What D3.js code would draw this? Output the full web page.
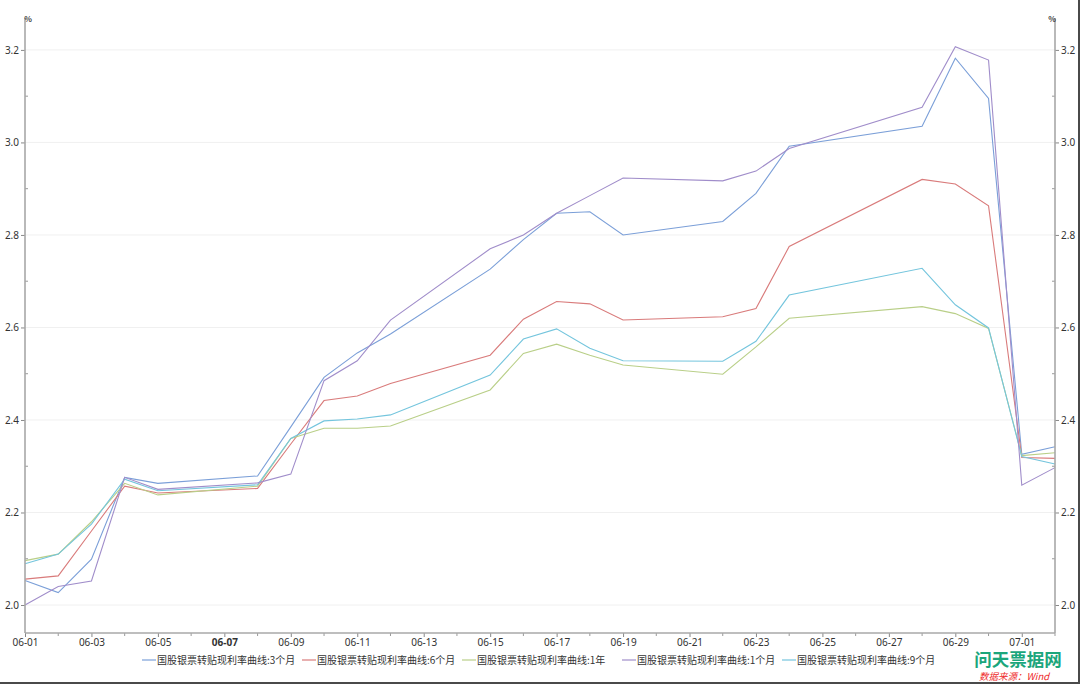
<!DOCTYPE html>
<html><head><meta charset="utf-8">
<script src="https://cdn.jsdelivr.net/npm/d3@7/dist/d3.min.js"></script>
<style>
html,body{margin:0;padding:0;background:#fff;}
svg{display:block;font-family:"Noto Sans CJK SC","Noto Sans",sans-serif;}
</style></head>
<body><svg id="c" width="1080" height="684"></svg>
<script>
const dates = ["2020-06-01","2020-06-02","2020-06-03","2020-06-04","2020-06-05","2020-06-08","2020-06-09","2020-06-10","2020-06-11","2020-06-12","2020-06-15","2020-06-16","2020-06-17","2020-06-18","2020-06-19","2020-06-22","2020-06-23","2020-06-24","2020-06-28","2020-06-29","2020-06-30","2020-07-01","2020-07-02"];
const seriesNames = ["国股银票转贴现利率曲线:3个月","国股银票转贴现利率曲线:6个月","国股银票转贴现利率曲线:1年","国股银票转贴现利率曲线:1个月","国股银票转贴现利率曲线:9个月"];
const s3M = [2.053,2.027,2.099,2.276,2.263,2.279,2.385,2.492,2.545,2.586,2.726,2.79,2.847,2.85,2.80,2.829,2.89,2.992,3.035,3.182,3.095,2.326,2.342];
const s6M = [2.056,2.063,2.16,2.257,2.242,2.252,2.348,2.442,2.452,2.479,2.54,2.618,2.656,2.651,2.616,2.623,2.641,2.775,2.92,2.91,2.863,2.319,2.317];
const s1Y = [2.096,2.11,2.18,2.263,2.238,2.257,2.36,2.382,2.382,2.387,2.465,2.544,2.564,2.54,2.519,2.499,2.558,2.62,2.645,2.63,2.598,2.323,2.329];
const s1M = [2.00,2.04,2.052,2.276,2.25,2.264,2.283,2.485,2.528,2.616,2.77,2.80,2.847,2.885,2.923,2.917,2.938,2.987,3.076,3.207,3.178,2.259,2.297];
const s9M = [2.089,2.11,2.175,2.272,2.247,2.26,2.36,2.398,2.402,2.411,2.497,2.575,2.597,2.555,2.528,2.527,2.57,2.67,2.728,2.649,2.599,2.321,2.305];
const seriesColors = ["#7b9fd8","#d97b7b","#b9cf88","#a08dca","#74c5dd"];
const yTicks = [2.0,2.2,2.4,2.6,2.8,3.0,3.2];
const yMinor = [2.1,2.3,2.5,2.7,2.9,3.1];
const xTickLabels = ["06-01","06-03","06-05","06-07","06-09","06-11","06-13","06-15","06-17","06-19","06-21","06-23","06-25","06-27","06-29","07-01"];

const allSeries = [s3M,s6M,s1Y,s1M,s9M];
const parse = d3.utcParse("%Y-%m-%d");
const svg = d3.select("#c");
const L = 25, R = 1055, T = 18, B = 633;
const x = d3.scaleUtc().domain([parse("2020-06-01"), parse("2020-07-02")]).range([L, R]);
const y = d3.scaleLinear().domain([1.9395, 3.269]).range([B, T]);

// grid
svg.append("g").selectAll("line").data(yTicks).join("line")
  .attr("x1", L).attr("x2", R).attr("y1", d => y(d)).attr("y2", d => y(d))
  .attr("stroke", "#f0f0f0").attr("stroke-width", 1);

// lines
const line = d3.line().x((d,i) => x(parse(dates[i]))).y(d => y(d));
const order = [0,1,2,4,3];
order.forEach(k => {
  svg.append("path").datum(allSeries[k]).attr("d", line)
    .attr("fill","none").attr("stroke", seriesColors[k]).attr("stroke-width", 1.1);
});

// axes
const axisColor = "#a8a8a8";
const leftAxis = d3.axisLeft(y).tickValues(yTicks).tickFormat(d3.format(".1f")).tickSize(4).tickPadding(2);
const gl = svg.append("g").attr("transform", `translate(${L},0)`).call(leftAxis);
const rightAxis = d3.axisRight(y).tickValues(yTicks).tickFormat(d3.format(".1f")).tickSize(4).tickPadding(2);
const gr = svg.append("g").attr("transform", `translate(${R},0)`).call(rightAxis);
[gl, gr].forEach(g => {
  g.select(".domain").remove();
  g.selectAll(".tick line").attr("stroke", "#888");
  g.selectAll(".tick text").attr("fill","#333").attr("font-size", 10).attr("font-family","\"Noto Sans\",sans-serif");
});
// minor y ticks
svg.append("g").selectAll("line").data(yMinor).join("line")
  .attr("x1", L).attr("x2", L+3).attr("y1", d => y(d)).attr("y2", d => y(d)).attr("stroke","#999");
svg.append("g").selectAll("line").data(yMinor).join("line")
  .attr("x1", R-3).attr("x2", R).attr("y1", d => y(d)).attr("y2", d => y(d)).attr("stroke","#999");

// x axis
const xTickDates = xTickLabels.map(s => parse("2020-" + s));
const xAxis = d3.axisBottom(x).tickValues(xTickDates).tickFormat((d,i) => xTickLabels[i]).tickSize(4).tickPadding(2);
const gx = svg.append("g").attr("transform", `translate(0,${B})`).call(xAxis);
gx.select(".domain").remove();
gx.selectAll(".tick line").attr("stroke","#888");
gx.selectAll(".tick text").attr("fill","#333").attr("font-size", 10).attr("font-family","\"Noto Sans\",sans-serif")
  .attr("font-weight", (d,i) => xTickLabels[i] === "06-07" ? "bold" : "normal");
const minorX = d3.utcDay.range(parse("2020-06-02"), parse("2020-07-03"), 2);
svg.append("g").selectAll("line").data(minorX).join("line")
  .attr("x1", d => x(d)).attr("x2", d => x(d)).attr("y1", B).attr("y2", B+3).attr("stroke","#999");

// axis lines
svg.append("line").attr("x1",L).attr("x2",L).attr("y1",T).attr("y2",B).attr("stroke",axisColor).attr("stroke-width",1.6);
svg.append("line").attr("x1",R).attr("x2",R).attr("y1",T).attr("y2",B).attr("stroke",axisColor).attr("stroke-width",1.6);
svg.append("line").attr("x1",L).attr("x2",R).attr("y1",B).attr("y2",B).attr("stroke",axisColor).attr("stroke-width",1.6);

// % labels
svg.append("text").attr("x", L+3).attr("y", T+4).attr("font-size",8).attr("font-weight","bold").attr("fill","#444").attr("text-anchor","middle").text("%");
svg.append("text").attr("x", R-3).attr("y", T+4).attr("font-size",8).attr("font-weight","bold").attr("fill","#444").attr("text-anchor","middle").text("%");

// legend (fixed slot width)
const legendStart = 142, slot = 160, ly = 660;
[0,1,2,3,4].forEach((k, i) => {
  const lx = legendStart + i * slot;
  svg.append("line").attr("x1", lx).attr("x2", lx+14).attr("y1", ly).attr("y2", ly)
    .attr("stroke", seriesColors[k]).attr("stroke-width", 1.2);
  svg.append("text").attr("x", lx+15).attr("y", ly).attr("dy","0.35em")
    .attr("font-size", 10).attr("fill","#333").text(seriesNames[k]);
});

// watermark
svg.append("text").attr("x", 1018).attr("y", 660).attr("dy","0.35em").attr("text-anchor","middle")
  .attr("font-size", 17.5).attr("font-weight","bold").attr("fill","#1ba67c").text("问天票据网");
svg.append("text").attr("x", 1014).attr("y", 677).attr("dy","0.35em").attr("text-anchor","middle")
  .attr("font-size", 9.5).attr("font-style","italic").attr("fill","#ee2a2a").text("数据来源：Wind");

// border
svg.append("line").attr("x1",0).attr("x2",1080).attr("y1",683).attr("y2",683).attr("stroke","#4a4a4a").attr("stroke-width",2);
svg.append("line").attr("x1",1079).attr("x2",1079).attr("y1",0).attr("y2",684).attr("stroke","#4a4a4a").attr("stroke-width",2);
</script></body></html>
